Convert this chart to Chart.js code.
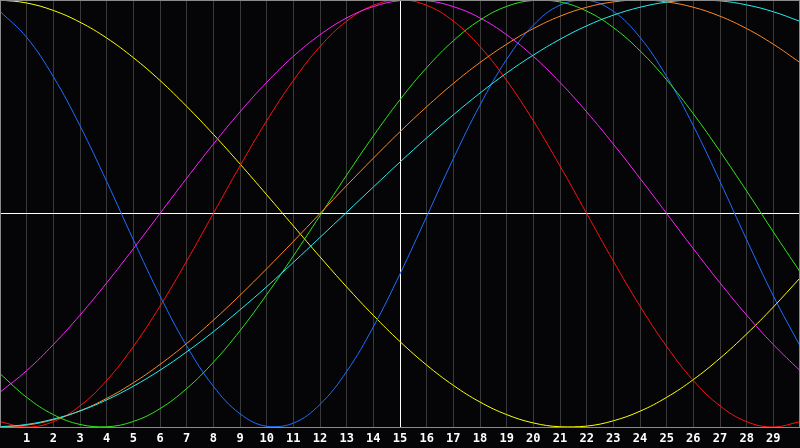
<!DOCTYPE html>
<html>
<head>
<meta charset="utf-8">
<style>
  html, body { margin: 0; padding: 0; background: #050508; }
  #wrap { width: 800px; height: 448px; }
</style>
</head>
<body>
<div id="wrap"><canvas id="bioChart"></canvas></div>
<script src="https://cdn.jsdelivr.net/npm/chart.js"></script>
<script>
// days 0..30, only 1..29 get a label
const days = ['0','1','2','3','4','5','6','7','8','9','10','11','12','13','14','15',
              '16','17','18','19','20','21','22','23','24','25','26','27','28','29','30'];

const physical = [0.947, 0.825, 0.641, 0.411, 0.150, -0.123, -0.386, -0.620, -0.809, -0.938, -0.997,
                  -0.982, -0.894, -0.740, -0.531, -0.283, -0.014, 0.257, 0.508, 0.722, 0.882,
                  0.976, 0.999, 0.947, 0.825, 0.641, 0.411, 0.150, -0.123, -0.386, -0.620];
const emotional = [-0.975, -1, -0.975, -0.901, -0.782, -0.623, -0.434, -0.223, 0, 0.223, 0.434,
                   0.623, 0.782, 0.901, 0.975, 1, 0.975, 0.901, 0.782, 0.623, 0.434,
                   0.223, 0, -0.223, -0.434, -0.623, -0.782, -0.901, -0.975, -1, -0.975];
const intellectual = [-0.750, -0.861, -0.942, -0.988, -0.999, -0.974, -0.914, -0.820, -0.697, -0.549, -0.380,
                      -0.199, -0.010, 0.180, 0.363, 0.533, 0.683, 0.809, 0.906, 0.970, 0.998,
                      0.991, 0.948, 0.871, 0.762, 0.626, 0.467, 0.291, 0.105, -0.086, -0.273];
const intuitive = [-0.837, -0.736, -0.614, -0.476, -0.325, -0.165, 0, 0.165, 0.325, 0.476, 0.614,
                   0.736, 0.837, 0.916, 0.969, 0.997, 0.997, 0.969, 0.916, 0.837, 0.736,
                   0.614, 0.476, 0.325, 0.165, 0, -0.165, -0.325, -0.476, -0.614, -0.736];
const aesthetic = [1.000, 0.986, 0.951, 0.896, 0.822, 0.730, 0.623, 0.502, 0.371, 0.232, 0.088,
                   -0.058, -0.203, -0.344, -0.477, -0.600, -0.710, -0.805, -0.883, -0.942, -0.981,
                   -0.999, -0.996, -0.971, -0.926, -0.861, -0.778, -0.678, -0.564, -0.438, -0.302];
const awareness = [-1, -0.991, -0.966, -0.924, -0.866, -0.793, -0.707, -0.609, -0.500, -0.383, -0.259,
                   -0.131, 0, 0.131, 0.259, 0.383, 0.500, 0.609, 0.707, 0.793, 0.866,
                   0.924, 0.966, 0.991, 1, 0.991, 0.966, 0.924, 0.866, 0.793, 0.707];
const spiritual = [-0.999, -0.988, -0.963, -0.925, -0.873, -0.809, -0.734, -0.648, -0.554, -0.451, -0.343,
                   -0.229, -0.112, 0.006, 0.124, 0.241, 0.354, 0.462, 0.564, 0.658, 0.742,
                   0.816, 0.879, 0.929, 0.966, 0.990, 1.000, 0.996, 0.977, 0.945, 0.900];

function line(data, color) {
    return { data: data, borderColor: color, borderWidth: 1, pointRadius: 0, tension: 0.4, fill: false };
}

// black background + thin grey frame round the plot
const framePlugin = {
    id: 'frame',
    beforeDraw(chart) {
        const c = chart.ctx;
        c.save();
        c.fillStyle = '#050508';
        c.fillRect(0, 0, chart.width, chart.height);
        c.restore();
    },
    afterDraw(chart) {
        const a = chart.chartArea, c = chart.ctx;
        c.save();
        c.strokeStyle = '#8a8a8a';
        c.lineWidth = 1;
        c.strokeRect(a.left + 0.5, a.top + 0.5, a.right - a.left - 1, a.bottom - a.top);
        c.restore();
    }
};

const ctx = document.getElementById('bioChart').getContext('2d');
const bioChart = new Chart(ctx, {
    type: 'line',
    data: {
        labels: days,
        datasets: [
            line(spiritual, '#22eeee'),
            line(awareness, '#ff8820'),
            line(intellectual, '#2ee61a'),
            line(physical, '#1e6eff'),
            line(intuitive, '#ff22ff'),
            line(emotional, '#ff1010'),
            line(aesthetic, '#ffff00')
        ]
    },
    options: {
        responsive: true,
        maintainAspectRatio: false,
        animation: false,
        layout: { padding: 0 },
        plugins: { legend: { display: false }, tooltip: { enabled: false } },
        scales: {
            x: {
                offset: false,
                border: { display: false },
                grid: {
                    drawTicks: false,
                    color: (c) => c.index === 15 ? '#ffffff' : ((c.index === 0 || c.index === 30) ? 'rgba(0,0,0,0)' : '#3a3a3a'),
                    lineWidth: 1
                },
                ticks: {
                    autoSkip: false,
                    maxRotation: 0,
                    padding: 5,
                    color: '#ffffff',
                    font: { family: 'DejaVu Sans Mono', size: 12, weight: 'bold' },
                    callback: function (v, i) { return (i === 0 || i === 30) ? '' : days[i]; }
                },
                afterFit: (s) => { s.height = 21; s.paddingLeft = 0; s.paddingRight = 0; }
            },
            y: {
                min: -1,
                max: 1,
                border: { display: false },
                ticks: { display: false, stepSize: 1 },
                grid: {
                    drawTicks: false,
                    color: (c) => c.tick.value === 0 ? '#ffffff' : 'rgba(0,0,0,0)'
                },
                afterFit: (s) => { s.width = 0; s.paddingTop = 0; s.paddingBottom = 0; }
            }
        }
    },
    plugins: [framePlugin]
});
</script>
</body>
</html>
